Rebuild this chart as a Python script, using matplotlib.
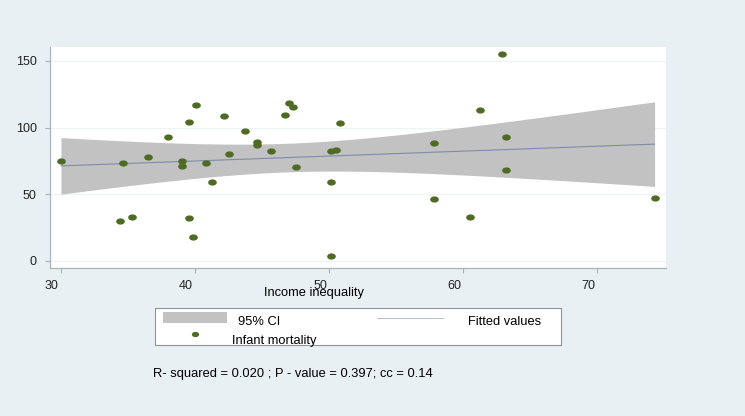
import numpy as np
import matplotlib
matplotlib.use("Agg")
import matplotlib.pyplot as plt
from matplotlib.path import Path
from matplotlib.patches import Rectangle
from matplotlib.lines import Line2D
import matplotlib.transforms as mtransforms

plt.rcParams['font.family'] = ['Liberation Sans', 'DejaVu Sans']

# income inequality (x) vs infant mortality (y)
income_inequality = [30.0, 34.6, 34.4, 35.3, 36.5, 38.0, 39.03, 39.03, 39.53, 39.53,
                     39.83, 40.1, 40.82, 41.3, 42.19, 42.54, 43.73, 44.63, 44.63, 45.7,
                     46.69, 46.99, 47.31, 47.54, 50.13, 50.13, 50.17, 50.52, 50.82,
                     62.91, 61.29, 57.81, 63.18, 63.18, 57.81, 60.5, 74.3]
infant_mortality = [75.2, 73.2, 30.2, 33.2, 78.2, 93.2, 75.2, 71.2, 104.2, 32.0,
                    18.0, 117.2, 73.2, 59.2, 108.5, 80.2, 97.2, 89.2, 87.2, 82.2,
                    109.2, 118.5, 115.2, 70.2, 4.0, 59.2, 82.2, 83.2, 103.5,
                    155.5, 113.2, 88.3, 93.2, 68.3, 46.3, 33.3, 47.3]
x_ticks = [30, 40, 50, 60, 70]
y_ticks = [0, 50, 100, 150]
stats_text = "R- squared = 0.020 ; P - value = 0.397; cc = 0.14"

bg = '#E9F0F3'
dot_color = '#4E6B24'
band_color = '#C2C2C2'
fit_color = '#7D8CA8'

x = np.array(income_inequality)
y = np.array(infant_mortality)

# linear fit with 95% CI of the mean prediction (like Stata lfitci)
n = len(x)
b1, b0 = np.polyfit(x, y, 1)
resid = y - (b0 + b1 * x)
s = np.sqrt(np.sum(resid ** 2) / (n - 2))
sxx = np.sum((x - x.mean()) ** 2)
t_crit = 2.03
xs = np.linspace(x.min(), x.max(), 100)
fit = b0 + b1 * xs
se = s * np.sqrt(1.0 / n + (xs - x.mean()) ** 2 / sxx)

fig = plt.figure(figsize=(7.45, 4.16), dpi=100, facecolor=bg)
ax = fig.add_axes([50 / 745, 148 / 416, 615.7 / 745, 221.3 / 416])
ax.set_facecolor('white')

ax.fill_between(xs, fit - t_crit * se, fit + t_crit * se, color=band_color, lw=0, zorder=2)
ax.plot(xs, fit, color=fit_color, lw=0.8, zorder=3)

# stretched circle marker like the original
ell = Path.unit_circle().transformed(mtransforms.Affine2D().scale(1.5, 1.0))
ax.plot(x, y, ls='none', marker=ell, ms=5.2, color=dot_color, mec=dot_color, zorder=4)

ax.set_xlim(29.18, 75.13)
ax.set_ylim(-5.25, 160.7)
ax.set_xticks(x_ticks)
ax.set_yticks(y_ticks)
ax.yaxis.grid(True, color='#EEF3F5', lw=0.8, zorder=0)
ax.set_axisbelow(True)
for side in ['top', 'right']:
    ax.spines[side].set_visible(False)
for side in ['left', 'bottom']:
    ax.spines[side].set_color('#A9B2B8')
    ax.spines[side].set_linewidth(0.9)
ax.tick_params(axis='both', colors='#A9B2B8', labelcolor='#222222', labelsize=9, length=3.5)
ax.tick_params(axis='y', pad=6)
ax.tick_params(axis='x', pad=5)

# tick labels sit a little left of their ticks in the original
shift = mtransforms.ScaledTranslation(-9 / 100, 0, fig.dpi_scale_trans)
for lab in ax.get_xticklabels():
    lab.set_transform(lab.get_transform() + shift)

fig.text(314.5 / 745, 1 - 293 / 416, 'Income inequality', ha='center', va='center', fontsize=9.3)

# legend box
lg = fig.add_axes([155 / 745, 71 / 416, 405.7 / 745, 37.3 / 416])
lg.set_xlim(0, 405.7)
lg.set_ylim(37.3, 0)
lg.set_xticks([])
lg.set_yticks([])
lg.set_facecolor('white')
for sp in lg.spines.values():
    sp.set_color('#8E969C')
    sp.set_linewidth(0.8)
lg.add_patch(Rectangle((7.7, 4.6), 64.6, 11, color=band_color, lw=0))
lg.text(82.7, 14, '95% CI', va='center', ha='left', fontsize=9.3)
lg.add_line(Line2D([222, 287.7], [10, 10], color='#A8B4C4', lw=0.6))
lg.text(312.7, 14, 'Fitted values', va='center', ha='left', fontsize=9.3)
lg.plot([40], [26.3], ls='none', marker=ell, ms=4.2, color=dot_color)
lg.text(76.7, 33.3, 'Infant mortality', va='center', ha='left', fontsize=9.3)

fig.text(153 / 745, 1 - 373.5 / 416, stats_text, ha='left', va='center', fontsize=9.3)

fig.savefig('out.png', dpi=100, facecolor=bg)
